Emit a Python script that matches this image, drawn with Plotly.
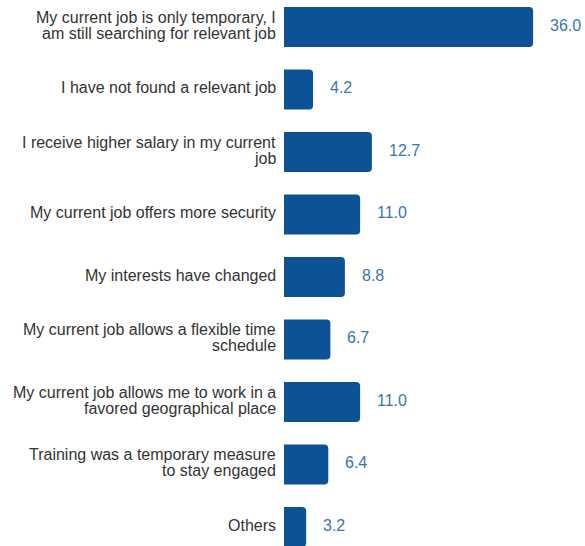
import plotly.graph_objects as go

# Reasons for working outside the field of training (% of respondents)
reasons = [
    "My current job is only temporary, I<br>am still searching for relevant job",
    "I have not found a relevant job",
    "I receive higher salary in my current<br>job",
    "My current job offers more security",
    "My interests have changed",
    "My current job allows a flexible time<br>schedule",
    "My current job allows me to work in a<br>favored geographical place",
    "Training was a temporary measure<br>to stay engaged",
    "Others",
]
shares = [36.0, 4.2, 12.7, 11.0, 8.8, 6.7, 11.0, 6.4, 3.2]

BAR_COLOR = "#0d5294"
VALUE_COLOR = "#3a74b2"
TEXT_COLOR = "#333333"
FONT = "Liberation Sans, Arial, sans-serif"

fig = go.Figure(
    go.Bar(
        x=shares,
        y=reasons,
        orientation="h",
        marker=dict(color=BAR_COLOR, line=dict(width=0)),
        width=0.64,
        hoverinfo="skip",
    )
)

annotations = []
LINE_GAP = 16
for reason, share in zip(reasons, shares):
    lines = reason.split("<br>")
    n = len(lines)
    for k, line in enumerate(lines):
        offset = ((n - 1) / 2 - k) * LINE_GAP + 2
        annotations.append(dict(
            x=0, xref="paper", y=reason, yref="y",
            text=line, showarrow=False,
            xanchor="right", yanchor="middle",
            xshift=-6, yshift=offset,
            font=dict(family=FONT, size=16, color=TEXT_COLOR),
        ))
    annotations.append(dict(
        x=share, xref="x", y=reason, yref="y",
        text=f"{share:.1f}", showarrow=False,
        xanchor="left", yanchor="middle",
        xshift=15, yshift=2,
        font=dict(family=FONT, size=16, color=VALUE_COLOR),
    ))

fig.update_layout(
    width=585,
    height=546,
    margin=dict(l=284, r=0, t=0, b=0),
    paper_bgcolor="white",
    plot_bgcolor="white",
    barcornerradius=4,
    showlegend=False,
    annotations=annotations,
    xaxis=dict(
        range=[0, 43.5],
        showgrid=False, zeroline=False, showticklabels=False,
        showline=False, ticks="",
    ),
    yaxis=dict(
        range=[8.304, -0.432],
        showgrid=False, zeroline=False, showticklabels=False,
        showline=False, ticks="",
    ),
)

fig.write_html("out.html")
